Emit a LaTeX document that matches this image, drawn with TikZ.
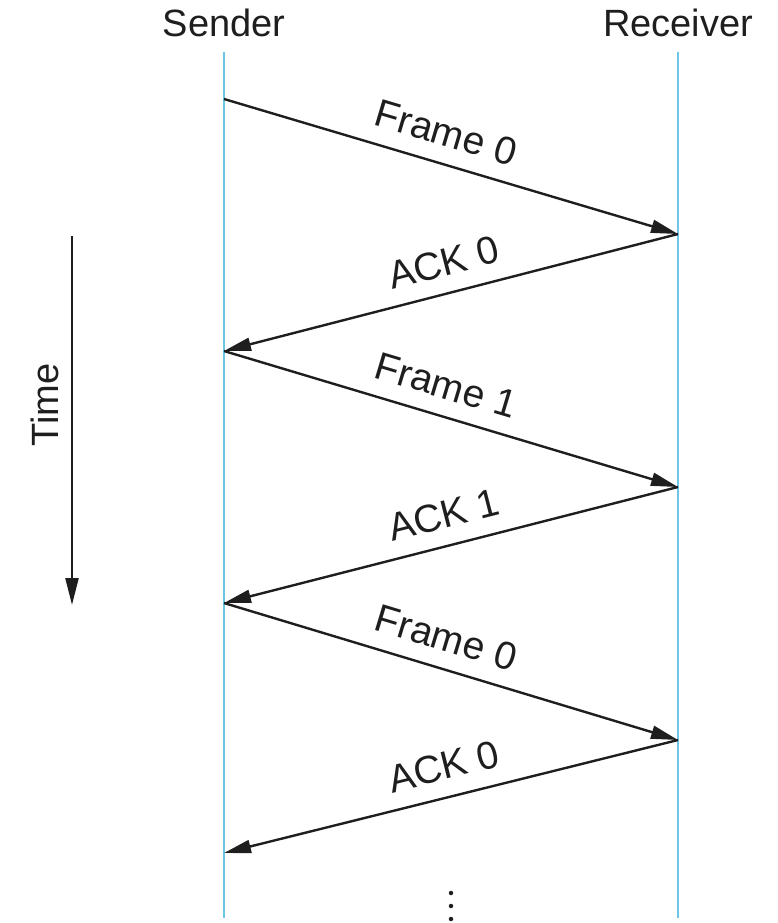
\documentclass[tikz,border=0pt]{standalone}
\usepackage{fontspec}
\setmainfont{Liberation Sans}
\usetikzlibrary{arrows.meta}
\definecolor{life}{RGB}{110,198,230}
\definecolor{ink}{RGB}{30,30,30}
\tikzset{
  lifeline/.style={draw=life, line width=2.8pt},
  msg/.style={draw=ink, line width=2.4pt, -{Triangle[length=27pt,width=13pt]}},
  msglabel/.style={sloped, above=16pt, inner sep=0pt, font=\fontsize{39}{43}\selectfont, text=ink},
  head/.style={anchor=base, inner sep=0pt, font=\fontsize{38}{42}\selectfont, text=ink},
  dotmark/.style={circle, fill=ink, inner sep=0pt, minimum size=4.5pt}
}
\begin{document}
\begin{tikzpicture}[x=1pt,y=-1pt]
\useasboundingbox (0,0) rectangle (777,923);
% headers
\node[head] (sender) at (224,37) {Sender};
\node[head] (receiver) at (678,37) {Receiver};
% lifelines
\coordinate (stop) at (224,52);
\coordinate (sbot) at (224,918);
\coordinate (rtop) at (678,52);
\coordinate (rbot) at (678,918);
\draw[lifeline] (stop) -- (sbot);
\draw[lifeline] (rtop) -- (rbot);
% event points
\coordinate (s0) at (224,99);
\coordinate (r0) at (678,234);
\coordinate (s1) at (224,351);
\coordinate (r1) at (678,487);
\coordinate (s2) at (224,603);
\coordinate (r2) at (678,740);
\coordinate (s3) at (224,853);
% messages
\draw[msg] (s0) -- node[msglabel, pos=0.47] (l1) {Frame 0} (r0);
\draw[msg] (r0) -- node[msglabel, pos=0.5] (l2) {ACK 0} (s1);
\draw[msg] (s1) -- node[msglabel, pos=0.47] (l3) {Frame 1} (r1);
\draw[msg] (r1) -- node[msglabel, pos=0.5] (l4) {ACK 1} (s2);
\draw[msg] (s2) -- node[msglabel, pos=0.47] (l5) {Frame 0} (r2);
\draw[msg] (r2) -- node[msglabel, pos=0.5] (l6) {ACK 0} (s3);
% time axis
\coordinate (ttop) at (72,236);
\coordinate (tbot) at (72,605);
\draw[msg] (ttop) -- (tbot);
\node[head, rotate=90] (time) at (58,405) {Time};
% continuation dots
\node[dotmark] (d1) at (451,893) {};
\node[dotmark] (d2) at (451,906) {};
\node[dotmark] (d3) at (451,919) {};
\end{tikzpicture}
\end{document}
